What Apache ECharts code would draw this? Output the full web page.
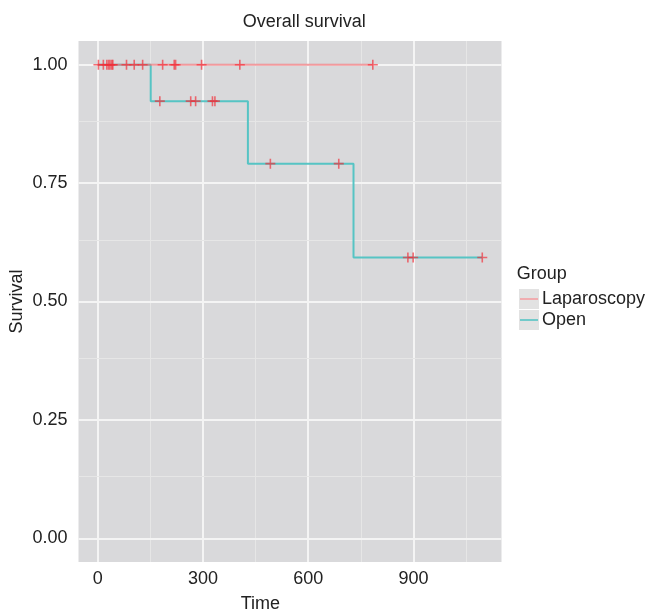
<!DOCTYPE html>
<html>
<head>
<meta charset="utf-8">
<script src="https://cdn.jsdelivr.net/npm/echarts@6/dist/echarts.min.js"></script>
<style>html,body{margin:0;padding:0;background:#fff;}#chart{width:652px;height:612px;}</style>
</head>
<body>
<div id="chart"></div>
<script>
// Kaplan-Meier step data
var openTimes = [0, 151, 428, 729, 1096];
var openSurv  = [1.0, 0.923, 0.791, 0.593, 0.593];
var lapTimes  = [0, 784];
var lapSurv   = [1.0, 1.0];
// censor marks
var lapCensorTimes = [2, 16, 26, 31, 35, 40, 43, 82, 104, 128, 185, 218, 222, 296, 405, 784];
var openCensorTimes = [177, 265, 279, 327, 334, 492, 687, 884, 899, 1096];
var openCensorSurv  = [0.923, 0.923, 0.923, 0.923, 0.923, 0.791, 0.791, 0.593, 0.593, 0.593];
// ticks
var xMajor = [0, 300, 600, 900];
var xMinor = [150, 450, 750, 1050];
var yMajor = [0, 0.25, 0.5, 0.75, 1.0];
var yMinor = [0.125, 0.375, 0.625, 0.875];
var groups = ['Laparoscopy', 'Open'];

var LAP_COLOR = 'rgba(240,115,120,0.7)';
var OPEN_COLOR = '#56c4c4';
var CENS_COLOR = 'rgba(242,45,55,0.85)';
var FONT = 'Liberation Sans';

function keyIcon(color) {
  var svg = "<svg xmlns='http://www.w3.org/2000/svg' width='20' height='20'>" +
    "<rect width='20' height='20' fill='#e2e2e2'/>" +
    "<line x1='1' y1='10' x2='19' y2='10' stroke='" + color + "' stroke-width='1.6'/></svg>";
  return 'image://data:image/svg+xml;charset=utf-8,' + encodeURIComponent(svg);
}

var gridLines = [];
xMajor.forEach(function (v) { gridLines.push({ xAxis: v, lineStyle: { color: '#f4f4f4', width: 2, type: 'solid' } }); });
xMinor.forEach(function (v) { gridLines.push({ xAxis: v, lineStyle: { color: '#e6e6e6', width: 1, type: 'solid' } }); });
yMajor.forEach(function (v) { gridLines.push({ yAxis: v, lineStyle: { color: '#f4f4f4', width: 2, type: 'solid' } }); });
yMinor.forEach(function (v) { gridLines.push({ yAxis: v, lineStyle: { color: '#e6e6e6', width: 1, type: 'solid' } }); });

function zip(a, b) { return a.map(function (v, i) { return [v, b[i]]; }); }
var crossPath = 'path://M-0.8,-5 L0.8,-5 L0.8,-0.8 L5,-0.8 L5,0.8 L0.8,0.8 L0.8,5 L-0.8,5 L-0.8,0.8 L-5,0.8 L-5,-0.8 L-0.8,-0.8 Z';

var chart = echarts.init(document.getElementById('chart'), null, { renderer: 'canvas' });
chart.setOption({
  animation: false,
  backgroundColor: '#ffffff',
  textStyle: { fontFamily: FONT },
  title: [
    { text: 'Overall survival', left: 237.7, top: 8,
      textStyle: { fontFamily: FONT, fontSize: 18, fontWeight: 'normal', color: '#222' } },
    { text: 'Time', left: 235.7, top: 590,
      textStyle: { fontFamily: FONT, fontSize: 18, fontWeight: 'normal', color: '#222' } },
    { text: 'Group', left: 511.7, top: 260,
      textStyle: { fontFamily: FONT, fontSize: 18, fontWeight: 'normal', color: '#222' } }
  ],
  legend: {
    orient: 'vertical', left: 514, top: 284,
    itemWidth: 20, itemHeight: 20, itemGap: 1,
    selectedMode: false,
    textStyle: { fontFamily: FONT, fontSize: 18, color: '#222', padding: [0, 0, 0, -2] },
    data: [
      { name: groups[0], icon: keyIcon('#f4a0a4') },
      { name: groups[1], icon: keyIcon('#56c4c4') }
    ]
  },
  grid: {
    left: 78.5, top: 41, width: 423, height: 521,
    outerBoundsMode: 'none', containLabel: false,
    show: true, backgroundColor: '#d9d9db', borderWidth: 0
  },
  xAxis: {
    type: 'value', min: -54.8, max: 1150.8,
    axisLine: { show: false },
    axisTick: { show: true, length: 4, customValues: xMajor, lineStyle: { color: '#7f7f7f', width: 1.5 } },
    axisLabel: { customValues: xMajor, margin: 8, fontFamily: FONT, fontSize: 18, color: '#222' },
    splitLine: { show: false }
  },
  yAxis: {
    type: 'value', min: -0.05, max: 1.05,
    name: 'Survival', nameLocation: 'middle', nameGap: 52, nameRotate: 90, nameMoveOverlap: false,
    nameTextStyle: { fontFamily: FONT, fontSize: 18, color: '#222' },
    axisLine: { show: false },
    axisTick: { show: true, length: 5, customValues: yMajor, lineStyle: { color: '#7f7f7f', width: 1.5 } },
    axisLabel: { customValues: yMajor, margin: 11, fontFamily: FONT, fontSize: 18, color: '#222',
      formatter: function (v) { return v.toFixed(2); } },
    splitLine: { show: false }
  },
  series: [
    { name: '_grid', type: 'line', data: [], z: 1, silent: true,
      markLine: { z: 1, silent: true, symbol: ['none', 'none'], label: { show: false }, animation: false, data: gridLines } },
    { name: groups[1], type: 'line', step: 'end', data: zip(openTimes, openSurv), z: 3,
      showSymbol: false, symbol: 'none', color: OPEN_COLOR, lineStyle: { color: OPEN_COLOR, width: 2 } },
    { name: groups[0], type: 'line', data: zip(lapTimes, lapSurv), z: 4,
      showSymbol: false, symbol: 'none', color: LAP_COLOR, lineStyle: { color: LAP_COLOR, width: 2 } },
    { name: 'lapCens', type: 'scatter', data: lapCensorTimes.map(function (t) { return [t, 1.0]; }), z: 5,
      symbol: crossPath, symbolSize: 10, itemStyle: { color: CENS_COLOR } },
    { name: 'openCens', type: 'scatter', data: zip(openCensorTimes, openCensorSurv), z: 5,
      symbol: crossPath, symbolSize: 10, itemStyle: { color: CENS_COLOR } }
  ]
});
</script>
</body>
</html>
